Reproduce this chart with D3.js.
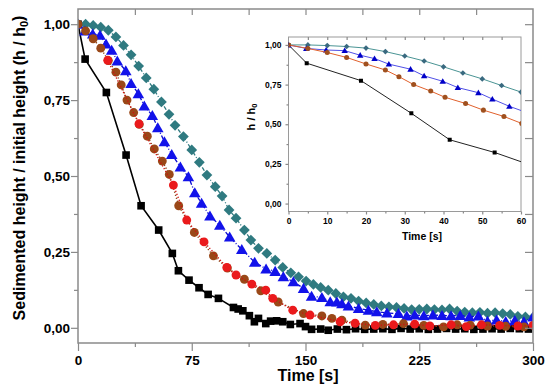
<!DOCTYPE html>
<html>
<head>
    <meta charset="utf-8">
    <style>
        body{ margin: 0; background-color: #fff; }
        svg{ display: block; font-family: "Liberation Sans", Arial, sans-serif; font-weight: bold; }
        .frame{ fill: none; stroke: #8a8a8a; stroke-width: 1.5px; }
        .inset-frame{ fill: #fff; stroke: #9a9a9a; stroke-width: 1px; }
        .tick line{ stroke: #8a8a8a; stroke-width: 1.2px; }
        .domain{ display: none; }
        .tick text{ fill: #000; font-weight: bold; }
    </style>
</head>
<body>
    <svg class="vis"></svg>

    <script src="https://cdn.jsdelivr.net/npm/d3@7/dist/d3.min.js"></script>
    <script>

        // black squares
        var sqT = [0, 4.7, 18.7, 31.7, 41.6, 53.2, 62.2, 66.2, 73.2, 79.8, 85.8, 92.6, 102.5, 105.6, 108.7, 113, 116.3, 119, 123.8, 127, 131, 135, 140, 146.4, 150, 154, 160, 165, 171, 177, 183, 189, 195, 201, 207, 213, 219, 225, 231, 237, 243, 249, 255, 261, 267, 273, 279, 285, 291, 297];
        var sqV = [1.0, 0.885, 0.775, 0.569, 0.402, 0.322, 0.245, 0.188, 0.157, 0.132, 0.11, 0.097, 0.067, 0.062, 0.056, 0.04, 0.02, 0.031, 0.014, 0.022, 0.023, 0.02, 0.011, 0.014, 0.004, -0.005, -0.004, -0.008, -0.004, -0.006, -0.003, -0.005, -0.004, -0.003, -0.005, -0.002, -0.004, -0.003, -0.005, -0.004, -0.002, -0.004, -0.003, -0.005, -0.004, -0.003, -0.004, -0.002, -0.003, -0.004];

        // brown circles
        var brT = [0, 5, 10, 15, 20, 25, 28.5, 32.3, 36.7, 40.4, 45.7, 50.3, 55.6, 60.2, 66.4, 76.7, 89.3, 98.5, 109.7, 120.5, 132, 148.7, 160.8, 167.4, 174, 189.4, 201, 214.6, 228, 241, 250, 258.6, 270, 282, 294];
        var brV = [1.0, 0.978, 0.952, 0.921, 0.88, 0.842, 0.80, 0.75, 0.709, 0.67, 0.631, 0.589, 0.549, 0.505, 0.402, 0.314, 0.237, 0.197, 0.16, 0.122, 0.085, 0.047, 0.039, 0.031, 0.025, 0.009, 0.011, 0.014, 0.008, 0.003, 0.01, 0.009, 0.006, 0.005, 0.003];

        // red circles
        var rdT = [19.6, 40.2, 62.9, 71.7, 83.1, 98.1, 104.2, 114.6, 123.8, 128.4, 141.6, 153, 172.8, 182.7, 196, 208, 222, 232, 246, 256, 266, 278, 290, 300];
        var rdV = [0.881, 0.672, 0.47, 0.355, 0.283, 0.199, 0.174, 0.144, 0.124, 0.097, 0.058, 0.042, 0.02, 0.015, 0.008, 0.01, 0.012, 0.006, 0.01, 0.004, 0.01, 0.008, 0.006, 0.008];

        // blue triangles
        var trT = [0, 4.6, 9.7, 14.5, 18.5, 22.2, 25.9, 31.5, 35, 39.8, 43.7, 49, 52.6, 57, 61.8, 67.5, 72.8, 77, 81.5, 87, 93.5, 100, 108, 116.5, 124, 130, 135.4, 142, 148.7, 154, 160.8, 166.3, 170.7, 174, 178.3, 185, 191.5, 197, 203.7, 211.3, 216.8, 222, 228, 234, 240, 246, 252, 258, 264, 270, 276, 282, 288, 294, 300];
        var trV = [1.0, 0.978, 0.968, 0.964, 0.935, 0.914, 0.879, 0.847, 0.805, 0.771, 0.731, 0.699, 0.659, 0.613, 0.571, 0.53, 0.498, 0.445, 0.41, 0.368, 0.338, 0.299, 0.258, 0.216, 0.194, 0.186, 0.168, 0.152, 0.13, 0.104, 0.1, 0.086, 0.085, 0.079, 0.072, 0.064, 0.058, 0.053, 0.049, 0.047, 0.039, 0.042, 0.04, 0.042, 0.041, 0.04, 0.041, 0.036, 0.039, 0.022, 0.026, 0.021, 0.024, 0.02, 0.036];

        // teal diamonds
        var dmT = [0, 5, 10, 15, 20, 25, 30, 35, 40, 45, 50, 55, 60, 64, 69.5, 75, 80, 85, 90.5, 95, 99.6, 104.2, 109.7, 114, 119, 124.5, 130, 135, 140.3, 145.4, 150.4, 155.2, 160, 165, 170, 175, 180, 185, 190, 195, 200, 205, 210, 215, 220, 225, 230, 235, 240, 245, 250, 255, 260, 265, 270, 275, 280, 285, 290, 295, 300];
        var dmV = [1.0, 1.0, 0.996, 0.99, 0.98, 0.958, 0.93, 0.899, 0.862, 0.823, 0.786, 0.744, 0.703, 0.667, 0.63, 0.586, 0.545, 0.503, 0.465, 0.434, 0.388, 0.361, 0.322, 0.289, 0.262, 0.245, 0.223, 0.199, 0.181, 0.168, 0.154, 0.143, 0.133, 0.124, 0.113, 0.102, 0.097, 0.088, 0.082, 0.077, 0.072, 0.069, 0.067, 0.064, 0.06, 0.061, 0.062, 0.06, 0.059, 0.062, 0.055, 0.052, 0.05, 0.051, 0.048, 0.05, 0.047, 0.044, 0.038, 0.036, 0.034];

        var mainXTicks = [0, 75, 150, 225, 300];
        var mainYTicks = [0, 0.25, 0.5, 0.75, 1];
        var insetXTicks = [0, 10, 20, 30, 40, 50, 60];
        var insetYTicks = [0, 0.25, 0.5, 0.75, 1];

        var width = 550;
        var height = 391;
        var M = {left: 78, right: 533, top: 9, bottom: 343};
        var I = {left: 288.5, right: 521, top: 37, bottom: 211.5};

        var vis = d3.select("svg.vis")
            .attr("width", width)
            .attr("height", height);

        var comma = d3.formatLocale({decimal: ",", thousands: ".", grouping: [3], currency: ["", ""]}).format(".2f");

        function zip(t, v){
            return t.map(function(d, i){ return [d, v[i]]; });
        }

        var series = [
            {data: zip(sqT, sqV), shape: "square", fill: "#000", line: "#000", dash: null, lw: 1.6,
             size: 58, iSize: 16, iLine: "#222"},
            {data: zip(dmT, dmV), shape: "diamond", fill: "#2f7a80", line: "#2f7a80", dash: "4,2,1,2", lw: 1.3,
             size: 58, iSize: 16, iLine: "#4a9494", iFill: "#3a6a80"},
            {data: zip(trT, trV), shape: "triangle", fill: "#1212ea", line: "#0a0ad0", dash: "4,2,1,2", lw: 1.3,
             size: 58, iSize: 18, iLine: "#5050e6", iFill: "#0000c8"},
            {data: zip(brT, brV), shape: "circle", fill: "#9a4818", line: "#8a4010", dash: "1.2,2", lw: 1.4,
             size: 62, iSize: 20, iLine: "#e0602c", iFill: "#a0501e"},
            {data: zip(rdT, rdV), shape: "circle", fill: "#ea1a1c", line: "#d01010", dash: "1.2,2", lw: 1.4,
             size: 62, iSize: 0, iLine: null}
        ];

        function symbolPath(shape, size){
            var type = d3.symbolSquare;
            if (shape === "circle") type = d3.symbolCircle;
            if (shape === "triangle") type = d3.symbolTriangle;
            return d3.symbol().type(type).size(size)();
        }

        function drawSeries(g, xs, ys, s, inset){
            var line = d3.line()
                .x(function(d){ return xs(d[0]); })
                .y(function(d){ return ys(d[1]); });

            var lc = inset ? s.iLine : s.line;
            if (lc){
                g.append("path")
                    .datum(s.data)
                    .attr("d", line)
                    .attr("fill", "none")
                    .attr("stroke", lc)
                    .attr("stroke-width", inset ? 1 : s.lw)
                    .attr("stroke-dasharray", inset ? null : s.dash);
            }

            var size = inset ? s.iSize : s.size;
            if (!size) return;
            var fill = inset ? (s.iFill || s.fill) : s.fill;
            var p = symbolPath(s.shape, size);
            g.selectAll(null)
                .data(s.data)
                .enter()
                .append("path")
                .attr("d", p)
                .attr("fill", fill)
                .attr("transform", function(d){
                    var tr = "translate(" + xs(d[0]) + "," + ys(d[1]) + ")";
                    if (s.shape === "diamond") tr += " rotate(45)";
                    if (s.shape === "triangle") tr += " translate(0," + (inset ? 0.6 : 1.2) + ")";
                    return tr;
                });
        }

        function main(){
            // ---- main chart ----
            var x = d3.scaleLinear().domain([0, 300]).range([M.left, M.right]);
            var y = d3.scaleLinear().domain([-0.05, 1.05]).range([M.bottom, M.top]);

            vis.append("defs").append("clipPath").attr("id", "clipMain")
                .append("rect")
                .attr("x", M.left).attr("y", M.top)
                .attr("width", M.right - M.left).attr("height", M.bottom - M.top);

            var plot = vis.append("g").attr("clip-path", "url(#clipMain)");
            series.forEach(function(s){ drawSeries(plot, x, y, s, false); });

            // axes
            vis.append("g")
                .attr("transform", "translate(0," + M.bottom + ")")
                .call(d3.axisBottom(x).tickValues(mainXTicks).tickSize(8).tickPadding(4).tickFormat(d3.format("d")))
                .selectAll("text").style("font-size", "13.5px");
            vis.append("g")
                .attr("transform", "translate(0," + M.bottom + ")")
                .call(d3.axisBottom(x).tickValues([37.5, 112.5, 187.5, 262.5]).tickSize(4).tickFormat(""));
            vis.append("g")
                .attr("transform", "translate(0," + M.top + ")")
                .call(d3.axisTop(x).tickValues([37.5, 75, 112.5, 150, 187.5, 225, 262.5]).tickSize(-6).tickFormat(""));

            vis.append("g")
                .attr("transform", "translate(" + M.left + ",0)")
                .call(d3.axisLeft(y).tickValues(mainYTicks).tickSize(7).tickPadding(1).tickFormat(comma))
                .selectAll("text").style("font-size", "13.5px");
            vis.append("g")
                .attr("transform", "translate(" + M.left + ",0)")
                .call(d3.axisLeft(y).tickValues([0.125, 0.375, 0.625, 0.875]).tickSize(4).tickFormat(""));
            vis.append("g")
                .attr("transform", "translate(" + M.right + ",0)")
                .call(d3.axisRight(y).tickValues([0, 0.125, 0.25, 0.375, 0.5, 0.625, 0.75, 0.875, 1]).tickSize(-8).tickFormat(""));

            vis.append("rect")
                .attr("class", "frame")
                .attr("x", M.left).attr("y", M.top)
                .attr("width", M.right - M.left).attr("height", M.bottom - M.top);

            vis.append("text")
                .attr("x", 308).attr("y", 381)
                .attr("text-anchor", "middle")
                .style("font-size", "16px")
                .text("Time [s]");

            var yl = vis.append("text")
                .attr("transform", "translate(25,168) rotate(-90)")
                .attr("text-anchor", "middle")
                .style("font-size", "16px");
            yl.append("tspan").text("Sedimented height / initial height (h / h");
            yl.append("tspan").attr("dy", "0.3em").style("font-size", "11px").text("0");
            yl.append("tspan").attr("dy", "-0.3em").text(")");

            // ---- inset ----
            var xi = d3.scaleLinear().domain([0, 60]).range([I.left, I.right]);
            var yi = d3.scaleLinear().domain([-0.05, 1.05]).range([I.bottom, I.top]);

            vis.append("rect")
                .attr("class", "inset-frame")
                .attr("x", I.left).attr("y", I.top)
                .attr("width", I.right - I.left).attr("height", I.bottom - I.top);

            vis.select("defs").append("clipPath").attr("id", "clipInset")
                .append("rect")
                .attr("x", I.left).attr("y", I.top)
                .attr("width", I.right - I.left).attr("height", I.bottom - I.top);

            var ip = vis.append("g").attr("clip-path", "url(#clipInset)");
            series.forEach(function(s){ drawSeries(ip, xi, yi, s, true); });

            vis.append("g")
                .attr("transform", "translate(0," + I.bottom + ")")
                .call(d3.axisBottom(xi).tickValues(insetXTicks).tickSize(3).tickPadding(3).tickFormat(d3.format("d")))
                .selectAll("text").style("font-size", "8.5px");
            vis.append("g")
                .attr("transform", "translate(0," + I.bottom + ")")
                .call(d3.axisBottom(xi).tickValues([5, 15, 25, 35, 45, 55]).tickSize(2).tickFormat(""));
            vis.append("g")
                .attr("transform", "translate(0," + I.top + ")")
                .call(d3.axisTop(xi).tickValues([5, 10, 15, 20, 25, 30, 35, 40, 45, 50, 55]).tickSize(-3).tickFormat(""));
            vis.append("g")
                .attr("transform", "translate(" + I.left + ",0)")
                .call(d3.axisLeft(yi).tickValues(insetYTicks).tickSize(3).tickPadding(4).tickFormat(comma))
                .selectAll("text").style("font-size", "8.5px");
            vis.append("g")
                .attr("transform", "translate(" + I.left + ",0)")
                .call(d3.axisLeft(yi).tickValues([0.125, 0.375, 0.625, 0.875]).tickSize(2).tickFormat(""));

            vis.append("text")
                .attr("x", 422).attr("y", 240)
                .attr("text-anchor", "middle")
                .style("font-size", "10.5px")
                .text("Time [s]");

            var il = vis.append("text")
                .attr("transform", "translate(255,117) rotate(-90)")
                .attr("text-anchor", "middle")
                .style("font-size", "11px");
            il.append("tspan").text("h / h");
            il.append("tspan").attr("dy", "0.3em").style("font-size", "7.5px").text("0");
        }

        main();

    </script>
</body>
</html>
